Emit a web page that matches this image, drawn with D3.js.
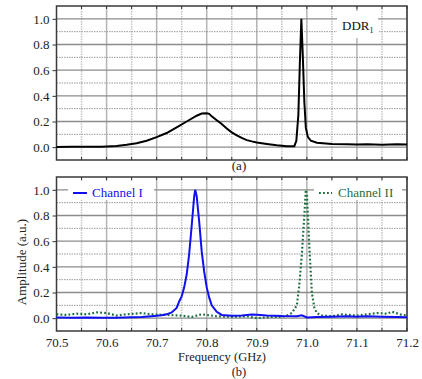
<!DOCTYPE html>
<html>
<head>
<meta charset="utf-8">
<script src="https://cdn.jsdelivr.net/npm/d3@7"></script>
<style>
  body { margin: 0; background: #fff; }
  text { font-family: "Liberation Serif", "Times New Roman", serif; }
</style>
</head>
<body>
<svg id="chart" width="422" height="379"></svg>
<script>
// DDR1 transmission (panel a)
var ddrFreq = [70.50, 70.53, 70.56, 70.59, 70.60, 70.62, 70.64, 70.66, 70.68, 70.70, 70.72, 70.74, 70.76, 70.78, 70.79, 70.80, 70.805, 70.81, 70.82, 70.83, 70.84, 70.85, 70.86, 70.87, 70.88, 70.89, 70.90, 70.92, 70.94, 70.96, 70.975, 70.979, 70.983, 70.986, 70.989, 70.992, 70.995, 70.998, 71.002, 71.008, 71.02, 71.05, 71.08, 71.10, 71.12, 71.15, 71.18, 71.20];
var ddrAmp  = [0.002, 0.004, 0.003, 0.004, 0.006, 0.010, 0.018, 0.030, 0.050, 0.078, 0.110, 0.155, 0.200, 0.245, 0.262, 0.265, 0.260, 0.240, 0.210, 0.180, 0.145, 0.115, 0.092, 0.072, 0.055, 0.045, 0.036, 0.025, 0.015, 0.008, 0.008, 0.050, 0.250, 0.650, 1.000, 0.700, 0.350, 0.150, 0.080, 0.050, 0.035, 0.025, 0.022, 0.020, 0.022, 0.018, 0.022, 0.020];

// Channel I (panel b)
var ch1Freq = [70.50, 70.53, 70.56, 70.59, 70.62, 70.65, 70.67, 70.69, 70.70, 70.71, 70.72, 70.73, 70.74, 70.745, 70.75, 70.755, 70.76, 70.765, 70.77, 70.775, 70.777, 70.78, 70.785, 70.79, 70.795, 70.80, 70.805, 70.81, 70.82, 70.83, 70.85, 70.87, 70.89, 70.90, 70.92, 70.95, 70.98, 70.99, 71.00, 71.02, 71.05, 71.08, 71.10, 71.12, 71.15, 71.18, 71.20];
var ch1Amp  = [0.005, 0.004, 0.006, 0.003, 0.004, 0.008, 0.010, 0.015, 0.018, 0.022, 0.030, 0.045, 0.080, 0.130, 0.170, 0.240, 0.340, 0.500, 0.720, 0.950, 1.000, 0.950, 0.750, 0.520, 0.360, 0.240, 0.160, 0.100, 0.050, 0.025, 0.018, 0.020, 0.028, 0.026, 0.020, 0.016, 0.015, 0.022, 0.005, 0.010, 0.012, 0.015, 0.012, 0.014, 0.012, 0.010, 0.008];

// Channel II (panel b)
var ch2Freq = [70.50, 70.52, 70.54, 70.56, 70.58, 70.60, 70.62, 70.64, 70.67, 70.69, 70.72, 70.75, 70.77, 70.79, 70.82, 70.85, 70.88, 70.90, 70.93, 70.95, 70.96, 70.97, 70.98, 70.985, 70.99, 70.995, 70.998, 71.00, 71.005, 71.01, 71.015, 71.02, 71.03, 71.05, 71.07, 71.10, 71.12, 71.14, 71.16, 71.17, 71.19, 71.20];
var ch2Amp  = [0.030, 0.025, 0.035, 0.030, 0.045, 0.040, 0.020, 0.030, 0.040, 0.030, 0.025, 0.020, 0.010, 0.030, 0.015, 0.010, 0.015, 0.000, 0.010, 0.010, 0.020, 0.040, 0.100, 0.260, 0.500, 0.800, 1.000, 0.970, 0.550, 0.200, 0.080, 0.040, 0.020, 0.015, 0.030, 0.020, 0.030, 0.040, 0.035, 0.050, 0.025, 0.020];

var xTicks = [70.5, 70.6, 70.7, 70.8, 70.9, 71.0, 71.1, 71.2];
var yTicks = [0.0, 0.2, 0.4, 0.6, 0.8, 1.0];

var blue = "#1010f0";
var green = "#1e6e3c";

var svg = d3.select("#chart");
var left = 56.5, right = 407;

var x = d3.scaleLinear().domain([70.5, 71.2]).range([left, right]);

function zip(fx, fy) {
  return fx.map(function(f, i) { return [f, fy[i]]; });
}

function drawPanel(top, bottom, showXLabels) {
  var y = d3.scaleLinear().domain([-0.1, 1.1]).range([bottom, top]);
  var g = svg.append("g");

  // vertical grid (every 0.05)
  d3.range(70.55, 71.2, 0.05).forEach(function(f) {
    var major = Math.abs(Math.round(f * 10) - f * 10) < 0.01;
    g.append("line")
     .attr("x1", x(f)).attr("x2", x(f))
     .attr("y1", top).attr("y2", bottom)
     .attr("stroke", major ? "#b4b4b4" : "#c4c4c4")
     .attr("stroke-width", 1.5)
     .attr("stroke-dasharray", major ? null : "1.5,1");
  });

  // horizontal grid (every 0.1)
  d3.range(0, 11).forEach(function(i) {
    var v = i / 10;
    g.append("line")
     .attr("x1", left).attr("x2", right)
     .attr("y1", y(v)).attr("y2", y(v))
     .attr("stroke", i % 2 == 0 ? "#8c8c8c" : "#9a9a9a")
     .attr("stroke-width", i % 2 == 0 ? 1.3 : 1)
     .attr("stroke-dasharray", i % 2 == 0 ? null : "1.5,1");
  });

  // ticks inside top/bottom
  d3.range(70.5, 71.201, 0.05).forEach(function(f) {
    g.append("line").attr("x1", x(f)).attr("x2", x(f))
     .attr("y1", bottom).attr("y2", bottom - 3).attr("stroke", "#333");
    g.append("line").attr("x1", x(f)).attr("x2", x(f))
     .attr("y1", top).attr("y2", top + 3).attr("stroke", "#333");
  });

  // y axis
  var ya = g.append("g")
   .attr("transform", "translate(" + left + ",0)")
   .call(d3.axisLeft(y).tickValues(yTicks).tickFormat(d3.format(".1f")).tickSize(4).tickPadding(3));
  ya.select(".domain").remove();
  ya.selectAll("text").attr("font-size", "13px").attr("fill", "#222")
    .style("font-family", "Liberation Serif");
  ya.selectAll("line").attr("stroke", "#333");

  if (showXLabels) {
    var xa = g.append("g")
     .attr("transform", "translate(0," + bottom + ")")
     .call(d3.axisBottom(x).tickValues(xTicks).tickFormat(d3.format(".1f")).tickSize(0).tickPadding(7));
    xa.select(".domain").remove();
    xa.selectAll("text").attr("font-size", "13px").attr("fill", "#222")
      .style("font-family", "Liberation Serif");
  }

  // frame
  g.append("rect")
   .attr("x", left).attr("y", top)
   .attr("width", right - left).attr("height", bottom - top)
   .attr("fill", "none").attr("stroke", "#3a3a3a").attr("stroke-width", 1.5);

  return y;
}

// panel (a)
var yA = drawPanel(6, 160, false);

// DDR1 label box
svg.append("rect").attr("x", 337).attr("y", 11).attr("width", 41).attr("height", 27).attr("fill", "#fff");
svg.append("text").attr("x", 342).attr("y", 30).attr("font-size", "13px").attr("fill", "#111")
   .text("DDR").append("tspan").attr("font-size", "8px").attr("dy", 3).text("1");

var line = d3.line().x(function(d) { return x(d[0]); });

line.y(function(d) { return yA(d[1]); });
svg.append("path").datum(zip(ddrFreq, ddrAmp))
   .attr("d", line).attr("fill", "none").attr("stroke", "#000").attr("stroke-width", 2);

svg.append("text").attr("x", 239).attr("y", 170).attr("text-anchor", "middle")
   .attr("font-size", "13px").attr("fill", "#222").text("(a)");

// panel (b)
var yB = drawPanel(177, 331, true);

line.y(function(d) { return yB(d[1]); });
svg.append("path").datum(zip(ch2Freq, ch2Amp))
   .attr("d", line).attr("fill", "none").attr("stroke", green).attr("stroke-width", 2.2)
   .attr("stroke-dasharray", "1.8,2.2");
svg.append("path").datum(zip(ch1Freq, ch1Amp))
   .attr("d", line).attr("fill", "none").attr("stroke", blue).attr("stroke-width", 2);

// legends
svg.append("rect").attr("x", 68).attr("y", 181).attr("width", 86).attr("height", 19).attr("fill", "#fff");
svg.append("line").attr("x1", 73).attr("x2", 87).attr("y1", 193).attr("y2", 193)
   .attr("stroke", blue).attr("stroke-width", 2);
svg.append("text").attr("x", 92).attr("y", 197).attr("font-size", "13px").attr("fill", blue).text("Channel I");

svg.append("rect").attr("x", 314).attr("y", 181).attr("width", 88).attr("height", 19).attr("fill", "#fff");
svg.append("line").attr("x1", 319).attr("x2", 332).attr("y1", 193).attr("y2", 193)
   .attr("stroke", green).attr("stroke-width", 2.2).attr("stroke-dasharray", "1.8,2.2");
svg.append("text").attr("x", 338).attr("y", 197).attr("font-size", "13px").attr("fill", green).text("Channel II");

// axis titles
svg.append("text").attr("x", 222).attr("y", 361).attr("text-anchor", "middle")
   .attr("font-size", "12.5px").attr("fill", "#222").text("Frequency (GHz)");
svg.append("text").attr("transform", "translate(26,262) rotate(-90)").attr("text-anchor", "middle")
   .attr("font-size", "13px").attr("fill", "#222").text("Amplitude (a.u.)");
svg.append("text").attr("x", 239).attr("y", 376).attr("text-anchor", "middle")
   .attr("font-size", "12.5px").attr("fill", "#222").text("(b)");
</script>
</body>
</html>
